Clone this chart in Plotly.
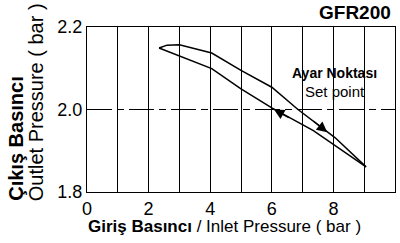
import plotly.graph_objects as go

# Hysteresis curve data
upper_x = [2.34, 2.6, 3.0, 4.05, 5.0, 6.0, 6.85, 8.05, 9.06]
upper_y = [2.149, 2.156, 2.157, 2.137, 2.095, 2.054, 2.0, 1.932, 1.861]
lower_x = [2.34, 3.0, 4.05, 5.0, 6.0, 7.35, 9.06]
lower_y = [2.149, 2.129, 2.099, 2.050, 2.004, 1.949, 1.861]

# arrows: tip and tail positions (data units)
arrow_tip_x = [7.8, 6.07]
arrow_tip_y = [1.945, 2.0]
arrow_tail_x = [7.3, 6.6]
arrow_tail_y = [1.975, 1.978]

set_point = 2.0
x_ticks = list(range(0, 11))
x_ticktext = [str(v) if v % 2 == 0 else "" for v in x_ticks]
y_ticks = [1.8, 2.0, 2.2]
y_ticktext = ["1.8", "2.0", "2.2"]

FONT = "Liberation Sans, Arial, sans-serif"

fig = go.Figure()
fig.add_trace(go.Scatter(x=upper_x, y=upper_y, mode="lines",
                         line=dict(color="black", width=1.5), showlegend=False, hoverinfo="skip"))
fig.add_trace(go.Scatter(x=lower_x, y=lower_y, mode="lines",
                         line=dict(color="black", width=1.5), showlegend=False, hoverinfo="skip"))

fig.add_shape(type="line", xref="x", yref="y", x0=0, x1=10, y0=set_point, y1=set_point,
              line=dict(color="black", width=1, dash="25px,5px,7px,5px"))

for tx, ty, sx, sy in zip(arrow_tip_x, arrow_tip_y, arrow_tail_x, arrow_tail_y):
    fig.add_annotation(x=tx, y=ty, ax=sx, ay=sy, xref="x", yref="y", axref="x", ayref="y",
                       text="", showarrow=True, arrowhead=2, arrowsize=1.6, arrowwidth=1.3,
                       arrowcolor="black")

fig.add_annotation(x=0.805, y=0.721, xref="paper", yref="paper", text="<b>Ayar Noktası</b>",
                   xanchor="center", yanchor="middle",
                   showarrow=False, font=dict(family=FONT, size=14, color="black"))
fig.add_annotation(x=0.805, y=0.612, xref="paper", yref="paper", text="Set point",
                   xanchor="center", yanchor="middle",
                   showarrow=False, font=dict(family=FONT, size=15, color="black"))

fig.add_annotation(x=0.993, y=1.09, xref="paper", yref="paper", text="<b>GFR200</b>",
                   xanchor="right", yanchor="middle", showarrow=False,
                   font=dict(family=FONT, size=19, color="black"))

fig.add_annotation(x=-0.233, y=-0.067, xref="paper", yref="paper", text="<b>Çıkış Basıncı</b>",
                   textangle=-90, xanchor="center", yanchor="bottom", showarrow=False,
                   font=dict(family=FONT, size=20, color="black"))
fig.add_annotation(x=-0.165, y=-0.067, xref="paper", yref="paper", text="Outlet Pressure ( bar )",
                   textangle=-90, xanchor="center", yanchor="bottom", showarrow=False,
                   font=dict(family=FONT, size=20, color="black"))
fig.add_annotation(x=-0.003, y=-0.212, xref="paper", yref="paper",
                   text="<b>Giriş Basıncı</b> / Inlet Pressure ( bar )",
                   xanchor="left", yanchor="middle", showarrow=False,
                   font=dict(family=FONT, size=17, color="black"))

fig.update_xaxes(range=[0, 10], tickvals=x_ticks, ticktext=x_ticktext, showgrid=True,
                 gridcolor="black", gridwidth=1, showline=True, linecolor="black", linewidth=1,
                 mirror=True, zeroline=False, ticks="", tickfont=dict(family=FONT, size=18, color="black"))
fig.update_yaxes(range=[1.8, 2.2], tickvals=y_ticks, ticktext=y_ticktext, showgrid=False,
                 showline=True, linecolor="black", linewidth=1, mirror=True, zeroline=False,
                 ticks="", tickfont=dict(family=FONT, size=18, color="black"))

fig.update_layout(width=400, height=243, margin=dict(l=87, r=5, t=27, b=51),
                  paper_bgcolor="white", plot_bgcolor="white")

fig.write_html("out.html", config={"displayModeBar": False},
               post_script="document.body.style.margin='0';")
